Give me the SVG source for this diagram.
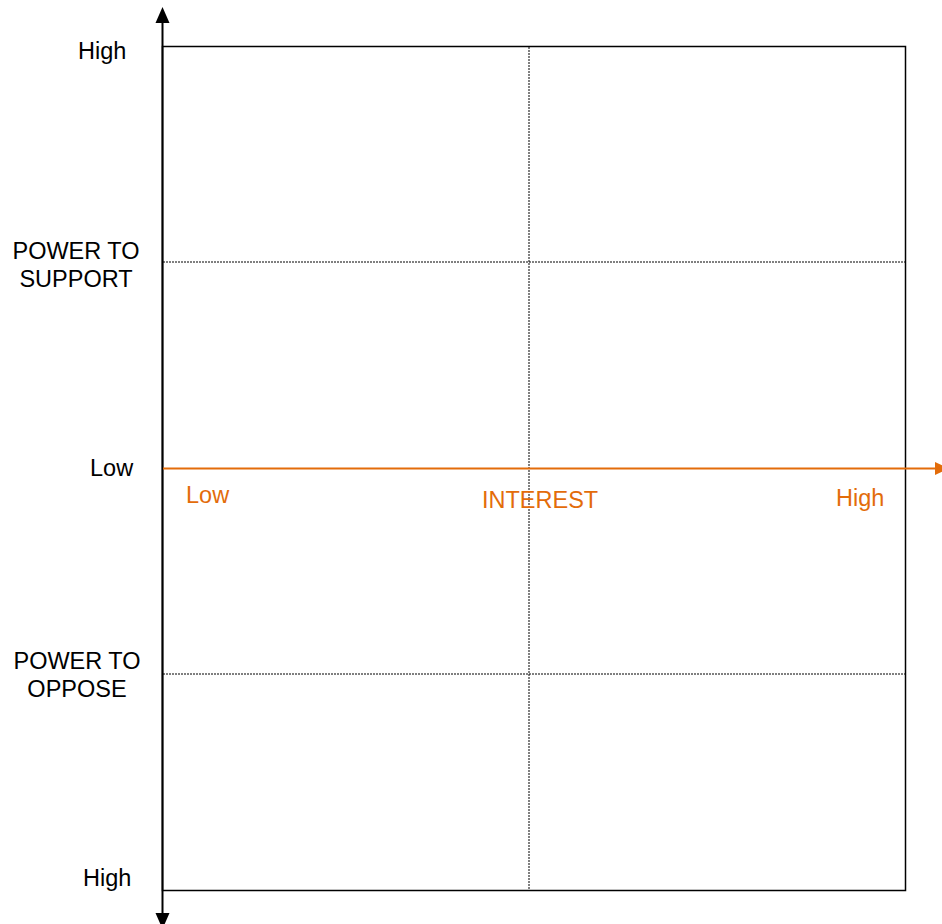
<svg xmlns="http://www.w3.org/2000/svg" width="942" height="924" viewBox="0 0 942 924">
<style>
.lbl{font-family:"Liberation Sans",Arial,sans-serif;font-size:23.5px;fill:#000}
.or{fill:#E36C0A}
.grid{stroke:#000;stroke-width:1;stroke-dasharray:2,1;fill:none}
.box{stroke:#000;stroke-width:1.5;fill:none}
</style>
<rect width="942" height="924" fill="#fff"/>
<g id="quadrants">
<rect class="box" x="162.5" y="46.5" width="743" height="844"/>
</g>
<g id="grid">
<line class="grid" x1="163" y1="262" x2="905" y2="262"/>
<line class="grid" x1="163" y1="674" x2="905" y2="674"/>
<line class="grid" x1="529" y1="47" x2="529" y2="890"/>
</g>
<g id="connectors">
<line x1="162.5" y1="20" x2="162.5" y2="914" stroke="#000" stroke-width="2"/>
<polygon points="162.5,7 155.5,23 169.5,23" fill="#000"/>
<polygon points="155.5,913 169.5,913 162.5,929" fill="#000"/>
<line x1="163" y1="468.5" x2="936" y2="468.5" stroke="#E36C0A" stroke-width="2"/>
<polygon points="935,462 935,475 949,468.5" fill="#E36C0A"/>
</g>
<g id="y-labels">
<text class="lbl" x="78" y="59">High</text>
<text class="lbl" x="76" y="259" text-anchor="middle">POWER TO</text>
<text class="lbl" x="76" y="287" text-anchor="middle">SUPPORT</text>
<text class="lbl" x="90" y="476">Low</text>
<text class="lbl" x="77" y="669" text-anchor="middle">POWER TO</text>
<text class="lbl" x="77" y="697" text-anchor="middle">OPPOSE</text>
<text class="lbl" x="83" y="886">High</text>
</g>
<g id="x-labels">
<text class="lbl or" x="186" y="503">Low</text>
<text class="lbl or" x="482" y="508">INTEREST</text>
<text class="lbl or" x="836" y="506">High</text>
</g>
</svg>
